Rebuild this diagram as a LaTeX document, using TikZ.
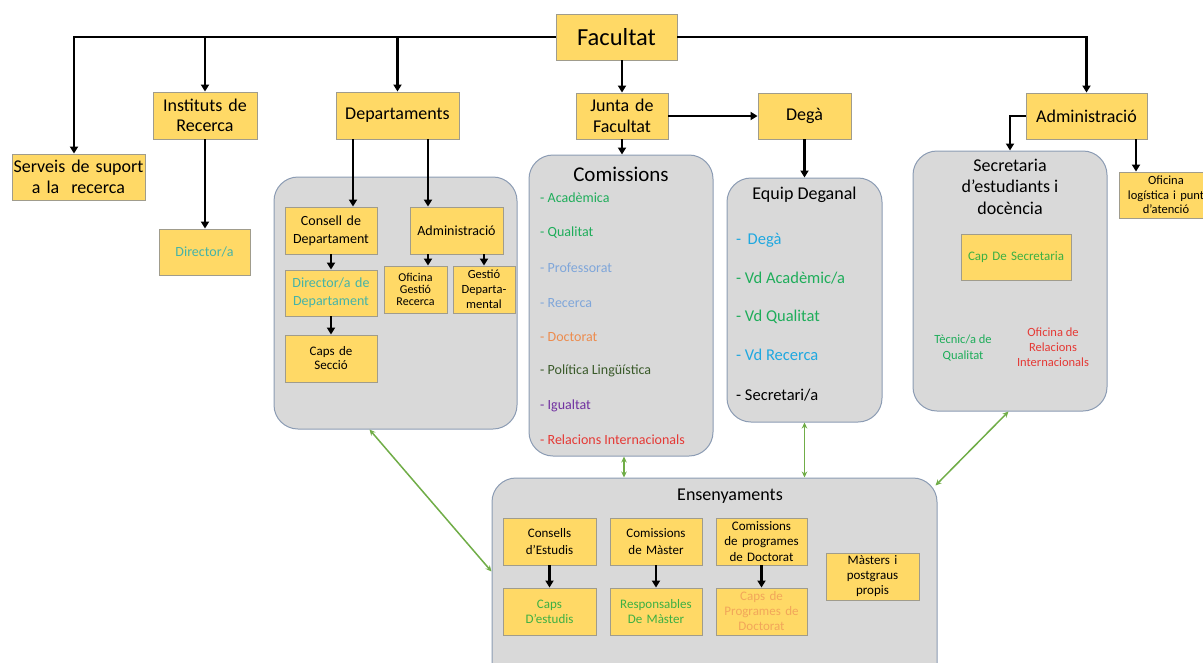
\documentclass[tikz,border=0pt]{standalone}
\usepackage{fontspec}
\setmainfont{Carlito}
\usetikzlibrary{arrows.meta}
\definecolor{boxfill}{HTML}{FFD966}
\definecolor{boxline}{HTML}{A09C8C}
\definecolor{grpfill}{HTML}{D9D9D9}
\definecolor{grpline}{HTML}{8C9CB4}
\definecolor{garrow}{HTML}{70AD47}
\definecolor{cteal}{HTML}{45B3A8}
\definecolor{cgreen}{HTML}{1EAD5A}
\definecolor{clime}{HTML}{3CB043}
\definecolor{cblue}{HTML}{7FA6DA}
\definecolor{csky}{HTML}{1FA8E0}
\definecolor{corange}{HTML}{ED8C4E}
\definecolor{corlight}{HTML}{F2A65A}
\definecolor{cdkgreen}{HTML}{3A5A2A}
\definecolor{cpurple}{HTML}{7030A0}
\definecolor{cred}{HTML}{E53935}
\newcommand\fsz[2]{\fontsize{#1}{#2}\selectfont}
\begin{document}
\begin{tikzpicture}[x=1pt,y=-1pt,
  ybox/.style={draw=boxline, fill=boxfill, line width=0.9pt, align=center, inner sep=0pt},
  grp/.style={draw=grpline, fill=grpfill, line width=1pt, rounded corners=24pt, inner sep=0pt},
  arr/.style={draw=black, line width=2.8pt, -{Triangle[length=7pt,width=8pt]}},
  garr/.style={draw=garrow, line width=1.5pt, {Stealth[length=6pt,width=5.5pt]}-{Stealth[length=6pt,width=5.5pt]}},
  lbl/.style={inner sep=0pt, anchor=west},
  txt/.style={inner sep=0pt, align=center}
]
\useasboundingbox (0,0) rectangle (1203,662);
\clip (0,0) rectangle (1203,662);
\fill[white] (0,0) rectangle (1203,662);

% groups
\node[grp, minimum width=243pt, minimum height=252pt] (dg) at (395.5,303) {};
\node[grp, minimum width=184pt, minimum height=301pt] (com) at (621,305.5) {};
\node[grp, minimum width=155pt, minimum height=244pt] (eqd) at (804.5,300) {};
\node[grp, minimum width=194pt, minimum height=260pt] (sec) at (1010,281) {};
\node[grp, minimum width=445pt, minimum height=212pt] (ens) at (714.5,584) {};

% top level
\node[ybox, text width=121pt, minimum height=46pt, font=\fsz{24.5}{28}] (fac) at (616.5,37) {Facultat};
\node[ybox, text width=133pt, minimum height=46pt, font=\fsz{18}{20.7}] (srv) at (78.5,177) {Serveis de suport\\a la~ recerca};
\node[ybox, text width=104pt, minimum height=47pt, font=\fsz{18}{20.5}] (ins) at (205,115.5) {Instituts de\\Recerca};
\node[ybox, text width=91pt, minimum height=46pt, font=\fsz{14}{17}, text=cteal] (dir) at (204.5,252) {Director/a};
\node[ybox, text width=123pt, minimum height=47pt, font=\fsz{18}{21}] (dep) at (397.5,115.5) {Departaments};
\node[ybox, text width=92pt, minimum height=46pt, font=\fsz{18}{21}] (jun) at (622,116) {Junta de\\Facultat};
\node[ybox, text width=93pt, minimum height=46pt, font=\fsz{18}{21}] (deg) at (804.5,116) {Degà};
\node[ybox, text width=121pt, minimum height=46pt, font=\fsz{18}{21}] (adm) at (1086.5,116) {Administració};
\node[ybox, text width=94pt, minimum height=46pt, font=\fsz{12.5}{14.5}] (ofl) at (1166,195) {Oficina\\logística i punt\\d’atenció};

% departaments group
\node[ybox, text width=92pt, minimum height=47pt, font=\fsz{14}{18}] (con) at (331,230.5) {Consell de\\Departament};
\node[ybox, text width=92pt, minimum height=46pt, font=\fsz{14}{17.7}, text=cteal] (dcd) at (331,293) {Director/a de\\Departament};
\node[ybox, text width=92pt, minimum height=47pt, font=\fsz{13}{14}] (cps) at (331,358.5) {Caps de\\Secció};
\node[ybox, text width=93pt, minimum height=47pt, font=\fsz{14}{17}] (adi) at (456.5,230.5) {Administració};
\node[ybox, text width=63pt, minimum height=47pt, font=\fsz{12}{12}] (ofg) at (415.5,289.5) {Oficina\\Gestió\\Recerca};
\node[ybox, text width=62pt, minimum height=47pt, font=\fsz{12.5}{15}] (gsd) at (484,289.5) {Gestió\\Departa-\\mental};

% comissions
\node[txt, font=\fsz{21}{25}] (comt) at (621,174) {Comissions};
\node[lbl, font=\fsz{14}{17}, text=cgreen] (c1) at (540,198) {- Acadèmica};
\node[lbl, font=\fsz{14}{17}, text=cgreen] (c2) at (540,233) {- Qualitat};
\node[lbl, font=\fsz{14}{17}, text=cblue] (c3) at (540,268) {- Professorat};
\node[lbl, font=\fsz{14}{17}, text=cblue] (c4) at (540,303) {- Recerca};
\node[lbl, font=\fsz{14}{17}, text=corange] (c5) at (540,337) {- Doctorat};
\node[lbl, font=\fsz{14}{17}, text=cdkgreen] (c6) at (540,371) {- Política Lingüística};
\node[lbl, font=\fsz{14}{17}, text=cpurple] (c7) at (540,406) {- Igualtat};
\node[lbl, font=\fsz{14}{17}, text=cred] (c8) at (540,440) {- Relacions Internacionals};

% equip deganal
\node[txt, font=\fsz{18}{21}] (eqt) at (804.5,195) {Equip Deganal};
\node[lbl, font=\fsz{16.5}{20}, text=csky] (e1) at (736,240) {-\, Degà};
\node[lbl, font=\fsz{16.5}{20}, text=cgreen] (e2) at (736,278) {- Vd Acadèmic/a};
\node[lbl, font=\fsz{16.5}{20}, text=cgreen] (e3) at (736,317) {- Vd Qualitat};
\node[lbl, font=\fsz{16.5}{20}, text=csky] (e4) at (736,355) {- Vd Recerca};
\node[lbl, font=\fsz{16.5}{20}] (e5) at (736,395) {- Secretari/a};

% secretaria
\node[txt, font=\fsz{18}{21.5}] (sect) at (1010,186.5) {Secretaria\\d’estudiants i\\docència};
\node[ybox, text width=110pt, minimum height=46pt, font=\fsz{13}{16}, text=clime] (cap) at (1016,257) {Cap De Secretaria};
\node[txt, font=\fsz{12.5}{16}, text=cgreen] (tec) at (963,348) {Tècnic/a de\\Qualitat};
\node[txt, font=\fsz{12.5}{15}, text=cred] (ori) at (1053,347) {Oficina de\\Relacions\\Internacionals};

% ensenyaments
\node[txt, font=\fsz{18}{21}] (enst) at (730,496) {Ensenyaments};
\node[ybox, text width=93pt, minimum height=47pt, font=\fsz{13}{17}] (ce) at (549.5,541.5) {Consells\\d’Estudis};
\node[ybox, text width=93pt, minimum height=47pt, font=\fsz{13}{15}, text=clime] (cde) at (549.5,611.5) {Caps\\D’estudis};
\node[ybox, text width=92pt, minimum height=47pt, font=\fsz{13}{16.7}] (cm) at (656,541.5) {Comissions\\de Màster};
\node[ybox, text width=92pt, minimum height=47pt, font=\fsz{13}{15}, text=clime] (rm) at (656,611.5) {Responsables\\De Màster};
\node[ybox, text width=91pt, minimum height=47pt, font=\fsz{13}{15.3}] (cpd) at (761.5,541.5) {Comissions\\de programes\\de Doctorat};
\node[ybox, text width=91pt, minimum height=47pt, font=\fsz{13}{15}, text=corlight] (kpd) at (761.5,611.5) {Caps de\\Programes de\\Doctorat};
\node[ybox, text width=93pt, minimum height=47pt, font=\fsz{13}{15}] (mpp) at (872.5,576.5) {Màsters i\\postgraus\\propis};

% black connectors
\draw[arr] (fac.west) -| ([xshift=-4.5pt]srv.north);
\draw[arr] (fac.west -| ins.north) -- (ins.north);
\draw[arr] (fac.west -| dep.north) -- (dep.north);
\draw[arr] (fac.east) -| (adm.north);
\draw[arr] (fac.south -| jun.north) -- (jun.north);
\draw[arr] (jun.east) -- (deg.west);
\draw[arr] (jun.south) -- (jun.south |- com.north);
\draw[arr] (deg.south) -- (deg.south |- eqd.north);
\draw[arr] (ins.south) -- (ins.south |- dir.north);
\coordinate (d1) at ([xshift=-44.5pt]dep.south);
\coordinate (d2) at ([xshift=30.5pt]dep.south);
\draw[arr] (d1) -- (d1 |- con.north);
\draw[arr] (d2) -- (d2 |- adi.north);
\draw[arr] (con.south) -- (dcd.north);
\draw[arr] (dcd.south) -- (cps.north);
\coordinate (a1) at ([xshift=-28.5pt]adi.south);
\coordinate (a2) at ([xshift=27.5pt]adi.south);
\draw[arr] (a1) -- (a1 |- ofg.north);
\draw[arr] (a2) -- (a2 |- gsd.north);
\draw[arr] (adm.west) -| (sec.north);
\coordinate (a3) at ([xshift=49.5pt]adm.south);
\draw[arr] (a3) -- (a3 |- ofl.north);
\draw[arr] (ce.south) -- (cde.north);
\draw[arr] (cm.south) -- (rm.north);
\draw[arr] (cpd.south) -- (kpd.north);

% green connectors
\coordinate (g1) at ([xshift=96pt]dg.south west);
\coordinate (g1e) at ([yshift=-94pt]ens.north west);
\draw[garr] (g1) -- (g1e);
\coordinate (g2) at ([xshift=3pt]com.south);
\draw[garr] (g2) -- (g2 |- ens.north);
\draw[garr] (eqd.south) -- (eqd.south |- ens.north);
\coordinate (g4) at ([xshift=96pt]sec.south west);
\coordinate (g4e) at ([xshift=-2pt,yshift=-8pt]ens.north east);
\draw[garr] (g4) -- (g4e);
\end{tikzpicture}
\end{document}
